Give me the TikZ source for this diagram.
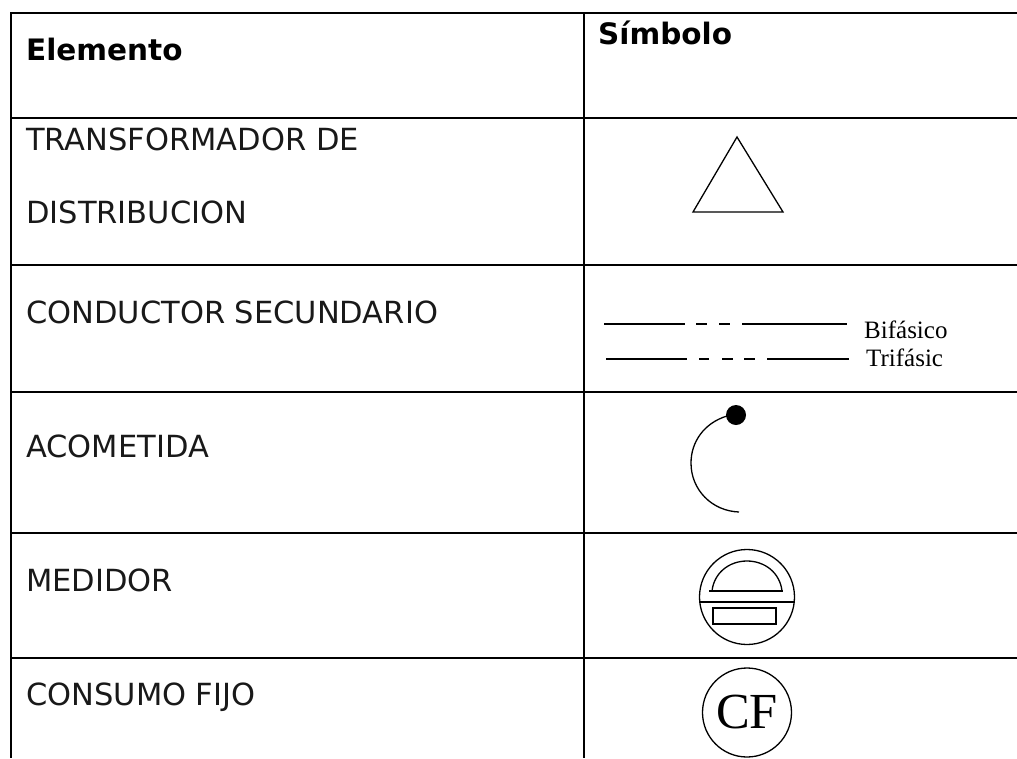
\documentclass[tikz,border=0pt]{standalone}
\usepackage{fontspec}
\setmainfont{Liberation Serif}
\newfontfamily\vfont{DejaVu Sans}
\tikzset{
  rule/.style={line width=2pt},
  sym/.style={line width=1.3pt},
  lab/.style={anchor=base west,inner sep=0pt,font=\vfont\fontsize{30.5}{34}\selectfont,text=black!90},
  head/.style={anchor=base west,inner sep=0pt,font=\vfont\bfseries\fontsize{29.5}{34}\selectfont},
  small/.style={anchor=base west,inner sep=0pt,font=\fontsize{25}{28}\selectfont},
}
\begin{document}
\begin{tikzpicture}[x=1pt,y=-1pt]
\useasboundingbox (0,0) rectangle (1017,758);
% frame
\coordinate (tl) at (11,12); \coordinate (tr) at (1017,13);
\coordinate (bl) at (11,758);
\coordinate (mt) at (584,13); \coordinate (mb) at (584,758);
\draw[rule] (11,13) -- (tr);
\draw[rule] (tl) -- (bl);
\draw[rule] (mt) -- (mb);
\foreach \y in {118,265,392,533,658} \draw[rule] (11,\y) -- (1017,\y);
% text
\node[head] (h1) at (26,60) {Elemento};
\node[head] (h2) at (598,44) {Símbolo};
\node[lab] (t1) at (26,150) {TRANSFORMADOR DE};
\node[lab] (t2) at (26,223) {DISTRIBUCION};
\node[lab] (t3) at (26,323) {CONDUCTOR SECUNDARIO};
\node[lab] (t4) at (26,457) {ACOMETIDA};
\node[lab] (t5) at (26,591) {MEDIDOR};
\node[lab] (t6) at (26,705) {CONSUMO FIJO};
% transformer
\draw[sym,line join=miter] (737,137) -- (783,212) -- (693,212) -- cycle;
% conductors
\draw[sym] (604,324) -- (685,324) (696,324) -- (707,324) (719,324) -- (730,324) (742,324) -- (847,324);
\draw[sym] (606,359) -- (687,359) (699,359) -- (709,359) (722,359) -- (733,359) (744,359) -- (755,359) (767,359) -- (849,359);
\node[small] (b1) at (864,338) {Bifásico};
\node[small] (b2) at (866,366) {Trifásic};
% acometida
\fill (736,415) circle (10);
\draw[sym] (727,416) .. controls (704,423) and (691,442) .. (691,463) .. controls (691,490) and (712,511) .. (739,512);
% medidor
\draw[sym] (747,597) circle (47.5);
\draw[sym] (700,602) -- (794,602);
\draw[sym] (709,591) -- (783,591);
\draw[sym] (712,591) .. controls (714,573) and (729,561) .. (747,561) .. controls (765,561) and (780,573) .. (782,591);
\draw[sym] (713,608) rectangle (776,624);
% CF
\node[circle,draw,sym,minimum size=89pt,inner sep=0pt,font=\fontsize{50.5}{54}\selectfont] (cf) at (747,712.5) {CF};
\end{tikzpicture}
\end{document}
